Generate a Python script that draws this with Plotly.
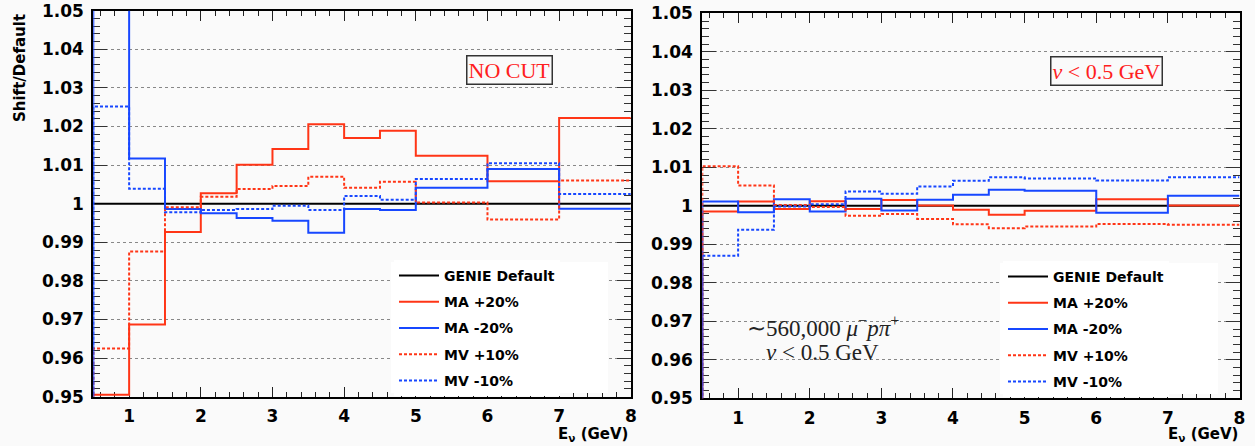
import plotly.graph_objects as go

# ---------------- data ----------------
bin_edges = [0.5, 1, 1.5, 2, 2.5, 3, 3.5, 4, 4.5, 5, 6, 7, 8]

# Left panel: NO CUT
genie_default = [1.0, 1.0, 1.0, 1.0, 1.0, 1.0, 1.0, 1.0, 1.0, 1.0, 1.0, 1.0]
ma_p20_nocut = [0.9505, 0.9687, 0.9927, 1.0027, 1.0101, 1.0142, 1.0206, 1.0170, 1.0189, 1.0124, 1.0058, 1.0222]
ma_m20_nocut = [1.0700, 1.0117, 0.9986, 0.9975, 0.9963, 0.9956, 0.9925, 0.9986, 0.9984, 1.0041, 1.0090, 0.9987]
mv_p10_nocut = [0.9625, 0.9876, 0.9991, 1.0018, 1.0038, 1.0046, 1.0070, 1.0041, 1.0057, 1.0003, 0.9959, 1.0060]
mv_m10_nocut = [1.0252, 1.0039, 0.9978, 0.9984, 0.9986, 0.9995, 0.9984, 1.0020, 1.0010, 1.0064, 1.0105, 1.0025]

# Right panel: nu < 0.5 GeV
ma_p20_cut = [0.9985, 1.0011, 0.9992, 1.0012, 0.9992, 1.0015, 1.0001, 0.9990, 0.9977, 0.9987, 1.0017, 1.0001]
ma_m20_cut = [1.0011, 0.9983, 1.0017, 0.9985, 1.0018, 0.9988, 1.0016, 1.0029, 1.0042, 1.0039, 0.9982, 1.0026]
mv_p10_cut = [1.0103, 1.0053, 1.0002, 0.9997, 0.9974, 0.9979, 0.9966, 0.9952, 0.9942, 0.9946, 0.9953, 0.9951]
mv_m10_cut = [0.9870, 0.9938, 0.9998, 1.0004, 1.0037, 1.0031, 1.0050, 1.0065, 1.0074, 1.0071, 1.0066, 1.0074]

series_names = ["GENIE Default", "MA +20%", "MA -20%", "MV +10%", "MV -10%"]

y_tickvals = [0.95, 0.96, 0.97, 0.98, 0.99, 1.00, 1.01, 1.02, 1.03, 1.04, 1.05]
y_ticktext = ["0.95", "0.96", "0.97", "0.98", "0.99", "1", "1.01", "1.02", "1.03", "1.04", "1.05"]
x_tickvals = [1, 2, 3, 4, 5, 6, 7, 8]
x_ticktext = ["1", "2", "3", "4", "5", "6", "7", "8"]

# ---------------- styling ----------------
W, H = 1255, 446
RED = "#ff3516"
BLUE = "#1747ff"
BLACK = "#000000"
BG = "#fafafa"
DOT = "3px,2px"
FONT = "DejaVu Sans"
SERIF = "Liberation Serif"

styles = [
    dict(color=BLACK, dash="solid"),
    dict(color=RED, dash="solid"),
    dict(color=BLUE, dash="solid"),
    dict(color=RED, dash=DOT),
    dict(color=BLUE, dash=DOT),
]


def step_xy(values, from_bottom=True):
    # histogram outline: vertical edge at the first bin's low edge, then steps
    xs = list(bin_edges)
    ys = list(values) + [values[-1]]
    if from_bottom:
        xs = [bin_edges[0]] + xs
        ys = [0.9] + ys
    return xs, ys


fig = go.Figure()

panels = [
    ("x", "y", "legend", [genie_default, ma_p20_nocut, ma_m20_nocut, mv_p10_nocut, mv_m10_nocut]),
    ("x2", "y2", "legend2", [genie_default, ma_p20_cut, ma_m20_cut, mv_p10_cut, mv_m10_cut]),
]

for xa, ya, lg, data in panels:
    for i, (name, vals, st) in enumerate(zip(series_names, data, styles)):
        xs, ys = step_xy(vals, from_bottom=(i != 0))
        fig.add_trace(go.Scatter(
            x=xs, y=ys, mode="lines", line_shape="hv",
            line=dict(color=st["color"], dash=st["dash"], width=2),
            name=name, xaxis=xa, yaxis=ya, legend=lg,
            legendgroup=lg + str(i), hoverinfo="skip",
        ))

# pixel geometry -> paper fractions
def fx(px):
    return px / W


def fy(py):
    return 1 - py / H


left_x = [fx(93.3), fx(630.8)]
right_x = [fx(702.3), fx(1239.5)]
left_y = [fy(396.7), fy(10.7)]
right_y = [fy(398.3), fy(13.3)]

tickfont = dict(family=FONT, size=17, color="black", weight="bold")

def xaxis_cfg(domain, anchor):
    return dict(
        domain=domain, anchor=anchor, range=[0.5, 8],
        tickmode="array", tickvals=x_tickvals, ticktext=x_ticktext,
        ticks="inside", ticklen=10, tickwidth=1, tickcolor="#222",
        minor=dict(tickmode="linear", tick0=0, dtick=0.2, ticks="inside",
                   ticklen=5, tickwidth=1, tickcolor="#222", showgrid=False),
        showline=True, linecolor="black", linewidth=2, mirror="ticks",
        showgrid=False, zeroline=False, tickfont=tickfont,
        ticklabelstandoff=3, automargin=False, layer="below traces",
        fixedrange=True,
    )


def yaxis_cfg(domain, anchor):
    return dict(
        domain=domain, anchor=anchor, range=[0.95, 1.05],
        tickmode="array", tickvals=y_tickvals, ticktext=y_ticktext,
        ticks="inside", ticklen=14, tickwidth=1, tickcolor="#333",
        minor=dict(tickmode="linear", tick0=0.95, dtick=0.002, ticks="inside",
                   ticklen=7, tickwidth=1, tickcolor="#333", showgrid=False),
        showline=True, linecolor="black", linewidth=2, mirror="ticks",
        showgrid=True, gridcolor="#888", griddash="dot", gridwidth=1,
        zeroline=False, tickfont=tickfont,
        ticklabelstandoff=4, automargin=False, layer="below traces",
        fixedrange=True,
    )


legend_common = dict(
    bgcolor="white", borderwidth=0,
    font=dict(family=FONT, size=14, color="black", weight="bold"),
    xanchor="left", yanchor="top", tracegroupgap=5, traceorder="grouped",
    itemwidth=40,
)

fig.update_layout(
    width=W, height=H,
    margin=dict(l=0, r=0, t=0, b=0),
    paper_bgcolor=BG, plot_bgcolor=BG,
    showlegend=True,
    xaxis=xaxis_cfg(left_x, "y"),
    yaxis=yaxis_cfg(left_y, "x"),
    xaxis2=xaxis_cfg(right_x, "y2"),
    yaxis2=yaxis_cfg(right_y, "x2"),
    legend=dict(x=fx(394), y=fy(260), **legend_common),
    legend2=dict(x=fx(1003), y=fy(261), **legend_common),
)

# white legend boxes (wider than the auto-sized legend)
fig.add_shape(type="rect", xref="paper", yref="paper",
              x0=fx(391), x1=fx(608), y0=fy(393), y1=fy(262),
              fillcolor="white", line=dict(width=0), layer="above")
fig.add_shape(type="rect", xref="paper", yref="paper",
              x0=fx(1000), x1=fx(1218), y0=fy(394), y1=fy(263),
              fillcolor="white", line=dict(width=0), layer="above")

# boxed panel labels
fig.add_annotation(xref="paper", yref="paper", x=fx(509.5), y=fy(70),
                   text="NO CUT", showarrow=False,
                   font=dict(family=SERIF, size=22, color="#ff2020"),
                   bordercolor="#333", borderwidth=1.5, borderpad=1, bgcolor=BG,
                   xanchor="center", yanchor="middle")
fig.add_annotation(xref="paper", yref="paper", x=fx(1106.5), y=fy(70.5),
                   text="<i>ν</i> &lt; 0.5 GeV", showarrow=False,
                   font=dict(family=SERIF, size=22, color="#ff2020"),
                   bordercolor="#333", borderwidth=1.5, borderpad=1, bgcolor=BG,
                   xanchor="center", yanchor="middle")

# event count text
fig.add_annotation(xref="paper", yref="paper", x=fx(823), y=fy(326),
                   text="∼560,000 <i>μ</i><sup>−</sup><i>pπ</i><sup>+</sup>",
                   showarrow=False, font=dict(family=SERIF, size=23, color="#222"),
                   xanchor="center", yanchor="middle")
fig.add_annotation(xref="paper", yref="paper", x=fx(822), y=fy(352),
                   text="<i>ν</i> &lt; 0.5 GeV",
                   showarrow=False, font=dict(family=SERIF, size=23, color="#222"),
                   xanchor="center", yanchor="middle")

# axis titles
fig.add_annotation(xref="paper", yref="paper", x=fx(20), y=fy(12),
                   text="Shift/Default", textangle=-90, showarrow=False,
                   font=dict(family=FONT, size=15, color="black", weight="bold"),
                   xanchor="center", yanchor="top")
for xr in (630.5, 1240):
    fig.add_annotation(xref="paper", yref="paper", x=fx(xr), y=fy(446),
                       text="E<sub>ν</sub> (GeV)", showarrow=False,
                       font=dict(family=FONT, size=15, color="black", weight="bold"),
                       xanchor="right", yanchor="bottom")

fig.write_html("out.html")
